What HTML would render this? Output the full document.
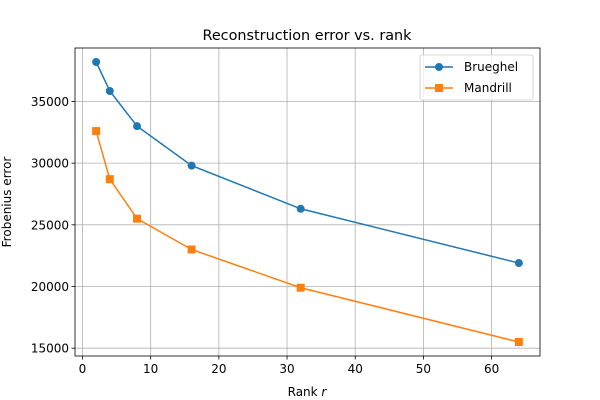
<!DOCTYPE html>
<html><head><meta charset="utf-8"><style>
html,body{margin:0;padding:0;background:#fff;}
svg{display:block;font-family:"DejaVu Sans","Liberation Sans",sans-serif;}
</style></head><body>
<svg id="chart" width="600" height="400">
<rect width="600" height="400" fill="#fff"/>
<g id="grid"></g>
<g id="ticks"></g>
<g id="series"></g>
<rect x="75" y="48" width="465" height="308" fill="none" stroke="#000" stroke-width="0.8"/>
<text x="307" y="40" text-anchor="middle" font-size="14.4">Reconstruction error vs. rank</text>
<text x="307" y="396" text-anchor="middle" font-size="12">Rank <tspan font-style="italic">r</tspan></text>
<text transform="translate(11,202) rotate(-90)" text-anchor="middle" font-size="12">Frobenius error</text>
<g>
<rect x="420" y="55" width="113" height="45" rx="2" fill="#fff" fill-opacity="0.8" stroke="#ccc" stroke-width="0.8"/>
<line x1="425" y1="67" x2="453" y2="67" stroke="#1f77b4" stroke-width="1.5"/>
<circle cx="439" cy="67" r="4" fill="#1f77b4"/>
<text x="464" y="71" font-size="12">Brueghel</text>
<line x1="425" y1="88" x2="453" y2="88" stroke="#ff7f0e" stroke-width="1.5"/>
<rect x="435" y="84" width="8" height="8" fill="#ff7f0e"/>
<text x="464" y="92" font-size="12">Mandrill</text>
</g>
</svg>
<script>
const ranks=[2,4,8,16,32,64];
const brueghel=[38200,35850,33000,29800,26300,21900];
const mandrill=[32600,28700,25500,23000,19900,15500];
const xTicks=[0,10,20,30,40,50,60];
const yTicks=[15000,20000,25000,30000,35000];
const L=75,R=540,T=48,B=356;
const xmin=-1.1,xmax=67.1,ymin=14365,ymax=39335;
const X=v=>L+(v-xmin)/(xmax-xmin)*(R-L);
const Y=v=>B-(v-ymin)/(ymax-ymin)*(B-T);
const NS="http://www.w3.org/2000/svg";
function mk(t,a,p){const e=document.createElementNS(NS,t);for(const k in a)e.setAttribute(k,a[k]);p.appendChild(e);return e;}
const grid=document.getElementById('grid'),ticks=document.getElementById('ticks'),ser=document.getElementById('series');
xTicks.forEach(v=>{const x=X(v);
const g=mk('line',{x1:x,x2:x,y1:T,y2:B,stroke:'#b0b0b0','stroke-width':0.8},grid);

mk('line',{x1:x,x2:x,y1:B,y2:B+3.5,stroke:'#000','stroke-width':0.8},ticks);
const t=mk('text',{x:x,y:B+17,'text-anchor':'middle','font-size':12},ticks);t.textContent=v;
});
yTicks.forEach(v=>{const y=Y(v);
const g=mk('line',{x1:L,x2:R,y1:y,y2:y,stroke:'#b0b0b0','stroke-width':0.8},grid);

mk('line',{x1:L-3.5,x2:L,y1:y,y2:y,stroke:'#000','stroke-width':0.8},ticks);
const t=mk('text',{x:L-6,y:y+4.5,'text-anchor':'end','font-size':12},ticks);t.textContent=v;
});
function draw(vals,color,sq,name){
const pl=mk('polyline',{points:ranks.map((r,i)=>X(r)+','+Y(vals[i])).join(' '),fill:'none',stroke:color,'stroke-width':1.5},ser);

ranks.forEach((r,i)=>{let m;
if(sq)m=mk('rect',{x:X(r)-4,y:Y(vals[i])-4,width:8,height:8,fill:color},ser);
else m=mk('circle',{cx:X(r),cy:Y(vals[i]),r:4,fill:color},ser);
});}
draw(brueghel,'#1f77b4',false,'brueghel');
draw(mandrill,'#ff7f0e',true,'mandrill');
</script>
</body></html>
